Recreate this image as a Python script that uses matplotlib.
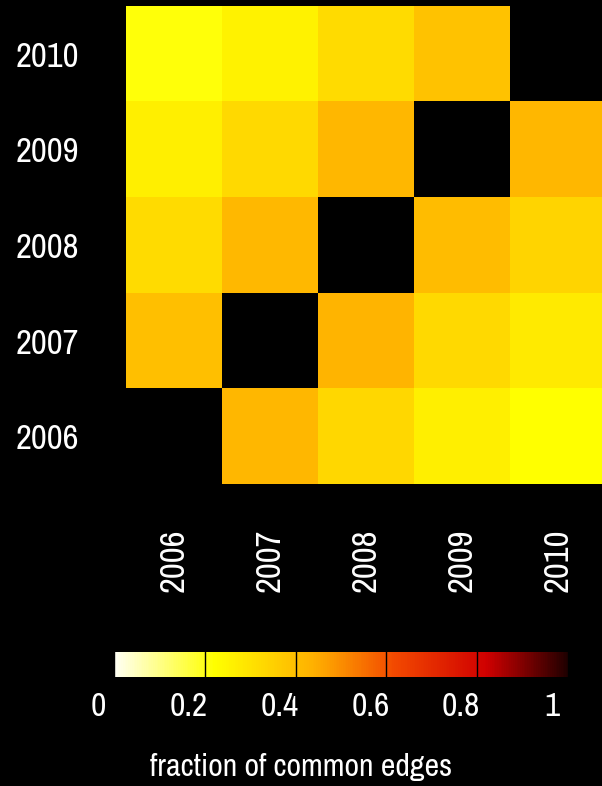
import numpy as np
import matplotlib
matplotlib.use("Agg")
import matplotlib.pyplot as plt
import matplotlib.transforms as mtransforms
from matplotlib import font_manager
from matplotlib.colors import LinearSegmentedColormap

# data: fraction of common edges between yearly networks
years = [2006, 2007, 2008, 2009, 2010]
row_2006 = [np.nan, 0.418, 0.331, 0.262, 0.220]
row_2007 = [0.395, np.nan, 0.426, 0.328, 0.278]
row_2008 = [0.317, 0.415, np.nan, 0.406, 0.337]
row_2009 = [0.264, 0.328, 0.418, np.nan, 0.418]
row_2010 = [0.212, 0.256, 0.317, 0.387, np.nan]
cbar_ticks = [0, 0.2, 0.4, 0.6, 0.8, 1.0]
cbar_labels = ['0', '0.2', '0.4', '0.6', '0.8', '1']

matrix = np.array([row_2006, row_2007, row_2008, row_2009, row_2010])

# pick the narrowest font we can find
names = sorted({f.name for f in font_manager.fontManager.ttflist})
narrow = [n for n in names if 'Condensed' in n or 'Narrow' in n]
if narrow:
    family = narrow[0]
elif 'Roboto' in names:
    family = 'Roboto'
else:
    family = 'Liberation Sans'
plt.rcParams['font.family'] = [family, 'DejaVu Sans']
plt.rcParams['font.weight'] = 'bold'

cmap = LinearSegmentedColormap.from_list(
    'hotish',
    [(0.0, '#fffff4'), (0.22, '#ffff00'), (0.44, '#ffb000'),
     (0.62, '#f24800'), (0.82, '#d00000'), (1.0, '#200000')])
cmap.set_bad('black')

fig = plt.figure(figsize=(6.02, 7.86), dpi=100, facecolor='black')

ax = fig.add_axes([126 / 602, 302 / 786, 480 / 602, 478 / 786])
ax.set_facecolor('black')
im = ax.imshow(np.ma.masked_invalid(matrix), cmap=cmap, vmin=0, vmax=1,
               origin='lower', aspect='auto', interpolation='nearest',
               extent=[-0.5, 4.5, -0.5, 4.5])
ax.set_xticks(range(len(years)))
ax.set_yticks(range(len(years)))
ax.set_xticklabels([str(y) for y in years], rotation=90, color='white',
                   fontsize=25, va='top')
ax.set_yticklabels([str(y) for y in years], color='white', fontsize=25)
ax.tick_params(axis='x', length=0, pad=32)
ax.tick_params(axis='y', length=0, pad=34)
for s in ax.spines.values():
    s.set_visible(False)

cax = fig.add_axes([114 / 602, 109 / 786, 454 / 602, 25 / 786])
cb = fig.colorbar(im, cax=cax, orientation='horizontal')
cb.outline.set_visible(False)
cb.set_ticks(cbar_ticks)
cb.set_ticklabels(cbar_labels)
cax.tick_params(axis='x', direction='in', length=25, width=1, color='black',
                labelcolor='white', labelsize=24, pad=11)
shift = mtransforms.ScaledTranslation(-0.16, 0, fig.dpi_scale_trans)
for lbl in cax.get_xticklabels():
    lbl.set_transform(lbl.get_transform() + shift)

fig.text(0.5, 10 / 786, 'fraction of common edges', color='white',
         fontsize=23, ha='center', va='baseline')

fig.savefig('out.png', dpi=100, facecolor='black')
